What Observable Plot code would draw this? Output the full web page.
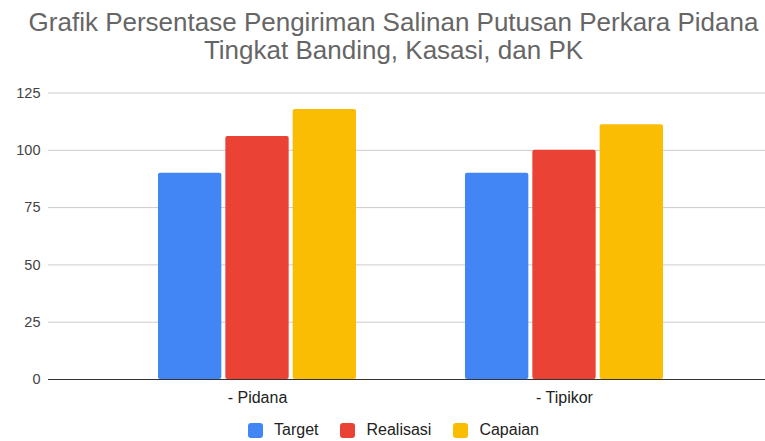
<!DOCTYPE html>
<html>
<head>
<meta charset="utf-8">
<script src="https://cdn.jsdelivr.net/npm/d3@7"></script>
<script src="https://cdn.jsdelivr.net/npm/@observablehq/plot@0.6"></script>
<style>
  html, body { margin: 0; padding: 0; background: #fff; }
  body { width: 765px; height: 441px; overflow: hidden; font-family: "Liberation Sans", Arial, sans-serif; }
  #title { box-sizing: border-box; height: 80px; padding-top: 8px; padding-left: 22px; text-align: center;
           font-size: 26px; line-height: 28px; color: #666; }
  #legend { box-sizing: border-box; height: 30px; padding-left: 22px; display: flex; justify-content: center;
            align-items: center; font-size: 16px; color: #222; }
  .item { display: flex; align-items: center; margin: 0 11px; }
  .sw { width: 15px; height: 15px; border-radius: 3px; margin-right: 11px; }
</style>
</head>
<body>
<div id="title">Grafik Persentase Pengiriman Salinan Putusan Perkara Pidana<br>Tingkat Banding, Kasasi, dan PK</div>
<div id="chart"></div>
<div id="legend"></div>
<script>
const categories = ["- Pidana", "- Tipikor"];
const series = ["Target", "Realisasi", "Capaian"];
const target = [90, 90];
const realisasi = [106, 100];
const capaian = [117.8, 111.1];
const yTicks = [0, 25, 50, 75, 100, 125];
const colors = ["#4285F4", "#EA4335", "#FBBC04"];

const seriesValues = [target, realisasi, capaian];
const data = [];
categories.forEach((c, i) => series.forEach((s, j) => data.push({category: c, series: s, value: seriesValues[j][i]})));

const W = 765, ML = 48, MR = 0;
const xOpts = {paddingInner: 0.354, paddingOuter: 0.341, align: 0.52};
// mirror of Plot's x band scale, used to split each band into three sub-bands
const outer = d3.scaleBand(categories, [ML, W - MR]).paddingInner(xOpts.paddingInner).paddingOuter(xOpts.paddingOuter).align(xOpts.align);
const bw = outer.bandwidth();
const inner = d3.scaleBand(series, [0, bw]).paddingInner(0.045).paddingOuter(0);

const barMarks = series.map(s => Plot.barY(data.filter(d => d.series === s), {
  x: "category", y: "value", fill: "series", rx: 2,
  insetLeft: inner(s), insetRight: bw - inner(s) - inner.bandwidth()
}));

const chart = Plot.plot({
  width: W,
  height: 335,
  marginLeft: ML,
  marginRight: MR,
  marginTop: 12.5,
  marginBottom: 36,
  style: {fontFamily: "'Liberation Sans', Arial, sans-serif", fontSize: "16px", color: "#222", background: "#fff"},
  x: {domain: categories, ...xOpts, label: null, tickSize: 0, tickPadding: 12},
  y: {domain: [0, 125], axis: null},
  color: {domain: series, range: colors},
  marks: [
    Plot.ruleY(yTicks.filter(d => d > 0), {stroke: "#cccccc", strokeWidth: 1}),
    ...barMarks,
    Plot.ruleY([0], {stroke: "#333", strokeWidth: 1.2}),
    Plot.axisY({ticks: yTicks, tickSize: 0, tickPadding: 8, fontSize: 14.5, fill: "#444", label: null})
  ]
});
document.getElementById("chart").appendChild(chart);

const legend = document.getElementById("legend");
series.forEach((s, i) => {
  const item = document.createElement("div");
  item.className = "item";
  const sw = document.createElement("div");
  sw.className = "sw";
  sw.style.background = colors[i];
  const lab = document.createElement("span");
  lab.textContent = s;
  item.appendChild(sw);
  item.appendChild(lab);
  legend.appendChild(item);
});
</script>
</body>
</html>
